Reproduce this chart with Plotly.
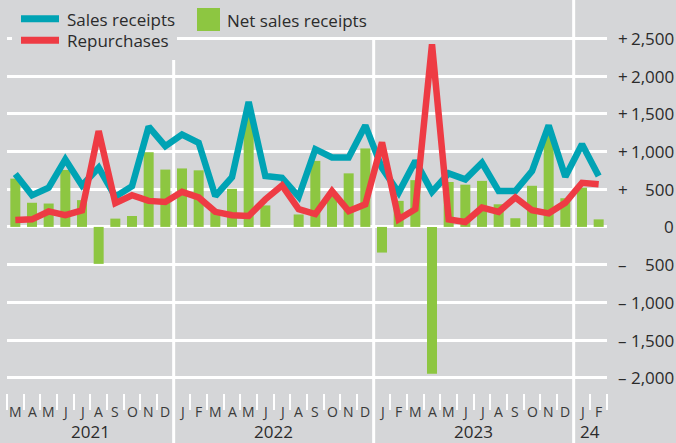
import plotly.graph_objects as go

# ---------------- data ----------------
months = ["M", "A", "M", "J", "J", "A", "S", "O", "N", "D",
          "J", "F", "M", "A", "M", "J", "J", "A", "S", "O", "N", "D",
          "J", "F", "M", "A", "M", "J", "J", "A", "S", "O", "N", "D",
          "J", "F"]
years = ["2021", "2022", "2023", "24"]
year_first_idx = [0, 10, 22, 34]
year_last_idx = [9, 21, 33, 35]

sales_receipts = [700, 420, 520, 895, 550, 785, 400, 540, 1330, 1070,
                  1225, 1115, 410, 660, 1655, 675, 650, 400, 1030, 920, 920, 1345,
                  780, 455, 875, 465, 710, 630, 850, 475, 475, 740, 1345, 665,
                  1095, 675]
repurchases = [90, 100, 205, 155, 220, 1270, 315, 420, 345, 330,
               465, 390, 200, 155, 145, 365, 550, 235, 170, 475, 210, 300,
               1120, 100, 235, 2420, 100, 65, 255, 200, 390, 220, 180, 320,
               585, 565]
net_sales_receipts = [640, 320, 310, 755, 355, -490, 110, 145, 990, 760,
                      775, 750, 200, 505, 1480, 285, 0, 165, 875, 445, 710, 1040,
                      -340, 345, 620, -1945, 595, 560, 610, 300, 115, 545, 1215, 380,
                      520, 100]

y_ticks = [2500, 2000, 1500, 1000, 500, 0, -500, -1000, -1500, -2000]

legend_sales = "Sales receipts"
legend_rep = "Repurchases"
legend_net = "Net sales receipts"

# ---------------- style ----------------
BG = "#d5d6d8"
TEAL = "#00a3b4"
RED = "#ee3b44"
GREEN = "#8dc641"
TXT = "#2b2b2b"
FONT = "Open Sans"

W, H = 676, 443
L, R, T, B = 7, 69, 0, 50
PW, PH = W - L - R, H - T - B

def px_x(p):
    return (p - L) / PW

def px_y(p):
    return (H - B - p) / PH

x = list(range(len(months)))

fig = go.Figure()
fig.add_trace(go.Bar(x=x, y=net_sales_receipts, marker=dict(color=GREEN, line=dict(width=0)),
                     name=legend_net, showlegend=False))
fig.add_trace(go.Scatter(x=x, y=sales_receipts, mode="lines", line=dict(color=TEAL, width=6.5),
                         name=legend_sales, showlegend=False))
fig.add_trace(go.Scatter(x=x, y=repurchases, mode="lines", line=dict(color=RED, width=6.5),
                         name=legend_rep, showlegend=False))

# y range so that 2500 -> 38.3px and -2000 -> 377.8px
ppu = (377.8 - 38.3) / 4500.0
y_top = 2500 + 38.3 / ppu
y_bot = -2000 - (H - B - 377.8) / ppu

shapes = []
# year separators
for k, first in enumerate(year_first_idx[1:]):
    top_paper = 1.0 if k == 2 else px_y(38.3)
    shapes.append(dict(type="line", xref="x", yref="paper", x0=first - 0.5, x1=first - 0.5,
                       y0=px_y(H), y1=top_paper, line=dict(color="white", width=3), layer="below"))
# legend background box (covers grid)
shapes.append(dict(type="rect", xref="paper", yref="paper", x0=px_x(12), x1=px_x(177),
                   y0=px_y(60), y1=px_y(0), fillcolor=BG, line=dict(width=0), layer="above"))
# legend symbols
shapes.append(dict(type="line", xref="paper", yref="paper", x0=px_x(21), x1=px_x(59),
                   y0=px_y(18.7), y1=px_y(18.7), line=dict(color=TEAL, width=7), layer="above"))
shapes.append(dict(type="line", xref="paper", yref="paper", x0=px_x(21), x1=px_x(59),
                   y0=px_y(40.3), y1=px_y(40.3), line=dict(color=RED, width=7), layer="above"))
shapes.append(dict(type="rect", xref="paper", yref="paper", x0=px_x(197), x1=px_x(220),
                   y0=px_y(31), y1=px_y(8), fillcolor=GREEN, line=dict(width=0), layer="above"))

ann = []
# legend text
for txt, xp, yp in [(legend_sales, 65, 19), (legend_rep, 65, 41), (legend_net, 225, 20)]:
    ann.append(dict(text=txt, xref="paper", yref="paper", x=px_x(xp), y=px_y(yp),
                    xanchor="left", yanchor="middle", showarrow=False,
                    font=dict(family=FONT, size=17, color=TXT)))
# y tick labels (sign + number)
for v in y_ticks:
    num = f"{abs(v):,}"
    if v != 0:
        sign = "+" if v > 0 else "–"
        ann.append(dict(text=sign, xref="paper", yref="y", x=px_x(616), y=v,
                        xanchor="left", yanchor="middle", showarrow=False,
                        font=dict(family=FONT, size=17, color=TXT)))
    ann.append(dict(text=num, xref="paper", yref="y", x=px_x(676), y=v,
                    xanchor="right", yanchor="middle", showarrow=False,
                    font=dict(family=FONT, size=17, color=TXT)))
# month labels
for i, m in enumerate(months):
    ann.append(dict(text=m, xref="x", yref="paper", x=i, y=px_y(411.7),
                    xanchor="center", yanchor="middle", showarrow=False,
                    font=dict(family=FONT, size=14, color="#3a3a3a")))
# year labels
for yl, a, b in zip(years, year_first_idx, year_last_idx):
    ann.append(dict(text=yl, xref="x", yref="paper", x=(a + b) / 2, y=px_y(431.5),
                    xanchor="center", yanchor="middle", showarrow=False,
                    font=dict(family=FONT, size=17, color=TXT)))

boundaries = [i - 0.5 for i in range(len(months) + 1)]

fig.update_layout(
    width=W, height=H,
    margin=dict(l=L, r=R, t=T, b=B, pad=0),
    paper_bgcolor=BG, plot_bgcolor=BG,
    bargap=0.4,
    showlegend=False,
    shapes=shapes,
    annotations=ann,
    xaxis=dict(range=[-0.5, len(months) - 0.5], showgrid=False, zeroline=False,
               tickvals=boundaries, ticks="outside", ticklen=16, tickwidth=2,
               tickcolor="white", showticklabels=False, showline=False, fixedrange=True),
    yaxis=dict(range=[y_bot, y_top], tickvals=y_ticks, showticklabels=False,
               showgrid=True, gridcolor="white", gridwidth=3,
               zeroline=True, zerolinecolor="white", zerolinewidth=3,
               ticks="", showline=False, fixedrange=True),
)

fig.write_html("out.html", config={"displayModeBar": False},
               post_script="document.body.style.margin='0';document.body.style.overflow='hidden';")
